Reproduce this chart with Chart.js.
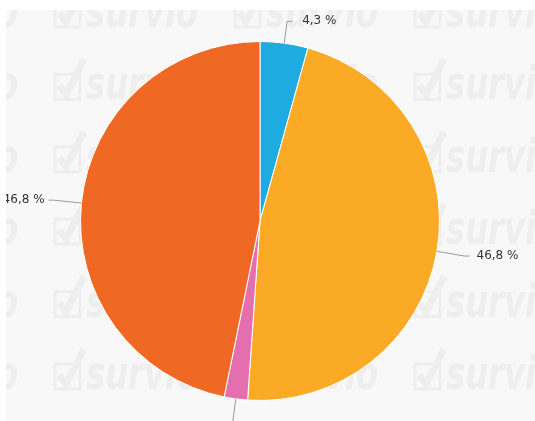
<!DOCTYPE html>
<html>
<head>
<meta charset="utf-8">
<script src="https://cdn.jsdelivr.net/npm/chart.js@4/dist/chart.umd.min.js"></script>
<style>
  html, body { margin: 0; padding: 0; background: #fff; }
  body { width: 535px; height: 421px; position: relative; overflow: hidden; }
  #wrap { position: absolute; left: 6px; top: 10px; width: 529px; height: 411px; background: #f8f8f8; }
</style>
</head>
<body>
<div id="wrap"><canvas id="chart" width="529" height="411"></canvas></div>
<script>
const categories = ['Option 1', 'Option 2', 'Option 3', 'Option 4'];
const shares = [4.3, 46.8, 2.1, 46.8];
const sliceColors = ['#1faae1', '#fbaa25', '#e46eae', '#f06924'];

function fmtPct(v) {
  return v.toFixed(1).replace('.', ',') + ' %';
}

// faint "survio" watermark behind the pie
const watermark = {
  id: 'watermark',
  beforeDraw(chart) {
    const ctx = chart.ctx;
    ctx.save();
    ctx.fillStyle = '#eeeeee';
    ctx.strokeStyle = '#eeeeee';
    ctx.font = 'italic bold 46px "DejaVu Sans", sans-serif';
    ctx.textBaseline = 'alphabetic';
    for (let row = 0; row < 6; row++) {
      const by = 27 + row * 72.4 - 10;
      for (let col = -1; col < 3; col++) {
        const bx = 55 + col * 180 - 6;
        ctx.lineWidth = 3;
        ctx.strokeRect(bx, by - 25, 25, 25);
        ctx.lineWidth = 7;
        ctx.beginPath();
        ctx.moveTo(bx + 4, by - 14);
        ctx.lineTo(bx + 11, by - 5);
        ctx.lineTo(bx + 29, by - 40);
        ctx.stroke();
        ctx.save();
        ctx.translate(bx + 31, by);
        ctx.scale(0.7, 1);
        ctx.fillText('survio', 0, 0);
        ctx.restore();
      }
    }
    ctx.restore();
  }
};

// outside labels with connector lines
const leaders = {
  id: 'leaders',
  afterDatasetsDraw(chart) {
    const ctx = chart.ctx;
    const meta = chart.getDatasetMeta(0);
    ctx.save();
    ctx.font = '12px "DejaVu Sans", sans-serif';
    ctx.textBaseline = 'middle';
    meta.data.forEach((arc, i) => {
      const p = arc.getProps(['x', 'y', 'startAngle', 'endAngle', 'outerRadius'], true);
      const a = (p.startAngle + p.endAngle) / 2;
      const c = Math.cos(a), s = Math.sin(a);
      const top = s < -0.9;
      const ext = p.outerRadius + (top ? 22 : 28);
      const x0 = p.x + c * p.outerRadius, y0 = p.y + s * p.outerRadius;
      const x1 = p.x + c * ext, y1 = p.y + s * ext;
      const side = c >= 0 ? 1 : -1;
      const x2 = x1 + side * 5;
      ctx.strokeStyle = '#999';
      ctx.lineWidth = 1;
      ctx.beginPath();
      ctx.moveTo(x0, y0);
      ctx.lineTo(x1, y1);
      ctx.lineTo(x2, y1);
      ctx.stroke();
      const gap = side > 0 ? (top ? 10 : 7) : 4;
      ctx.fillStyle = '#333';
      ctx.textAlign = side > 0 ? 'left' : 'right';
      ctx.fillText(fmtPct(shares[i]), x2 + side * gap, y1);
    });
    ctx.restore();
  }
};

new Chart(document.getElementById('chart'), {
  type: 'pie',
  data: {
    labels: categories,
    datasets: [{
      data: shares,
      backgroundColor: sliceColors,
      borderColor: '#ffffff',
      borderWidth: 1
    }]
  },
  options: {
    responsive: false,
    animation: false,
    layout: { padding: { left: 74, right: 95, top: 31, bottom: 20 } },
    plugins: {
      legend: { display: false },
      tooltip: { enabled: false }
    }
  },
  plugins: [watermark, leaders]
});
</script>
</body>
</html>
